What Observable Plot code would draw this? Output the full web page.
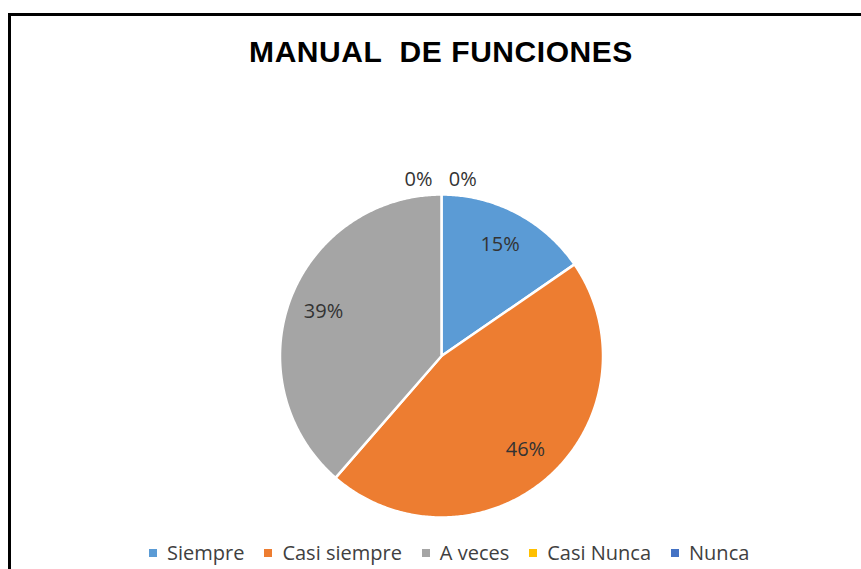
<!DOCTYPE html>
<html><head><meta charset="utf-8">
<script src="https://cdn.jsdelivr.net/npm/d3@7"></script>
<script src="https://cdn.jsdelivr.net/npm/@observablehq/plot@0.6"></script>
<style>
html,body{margin:0;padding:0;background:#fff;}
#wrap{position:relative;width:861px;height:569px;overflow:hidden;background:#fff;}
#frame{position:absolute;left:8px;top:13px;width:900px;height:600px;border:3px solid #000;box-sizing:border-box;}
#title{position:absolute;left:0;width:882px;top:37px;text-align:center;font:bold 30px "Liberation Sans",Arial,sans-serif;line-height:30px;letter-spacing:0.55px;white-space:pre;color:#000;}
#chart{position:absolute;left:0;top:0;}
#legend{position:absolute;left:149px;top:543px;display:flex;gap:20px;font:20px "Open Sans",sans-serif;line-height:20px;color:#404040;white-space:nowrap;}
.item{display:flex;align-items:center;}
.sw{width:8px;height:8px;margin-right:10px;}
</style></head><body><div id="wrap"><div id="frame"></div><div id="title"></div><div id="chart"></div><div id="legend"></div></div>
<script>
const categories = ["Siempre", "Casi siempre", "A veces", "Casi Nunca", "Nunca"];
const percents = [15.4, 46.0, 38.6, 0, 0];
const colors = ["#5B9BD5", "#ED7D31", "#A5A5A5", "#FFC000", "#4472C4"];
const title = "MANUAL  DE FUNCIONES";

document.getElementById("title").textContent = title;

const total = d3.sum(percents);
const arcs = d3.pie().sort(null).value(d => d.value)(categories.map((c, i) => ({cat: c, value: percents[i]})));

// slice polygons in unit coordinates (angle clockwise from 12 o'clock)
const poly = [];
arcs.forEach(a => {
  if (a.endAngle - a.startAngle <= 0) return;
  poly.push({cat: a.data.cat, u: 0, v: 0});
  const n = Math.max(2, Math.ceil((a.endAngle - a.startAngle) / 0.01));
  for (let k = 0; k <= n; ++k) {
    const t = a.startAngle + (a.endAngle - a.startAngle) * k / n;
    poly.push({cat: a.data.cat, u: Math.sin(t), v: Math.cos(t)});
  }
});

// labels: inside for non-zero slices, just outside the top for zero slices
let zeroIdx = 0;
const labels = arcs.map(a => {
  const pct = Math.round(a.data.value / total * 100) + "%";
  let ang = (a.startAngle + a.endAngle) / 2, r = 0.78;
  if (a.data.value === 0) { r = 1.1; ang = a.startAngle + (zeroIdx++ === 0 ? -0.13 : 0.12); }
  return {cat: a.data.cat, label: pct, u: r * Math.sin(ang), v: r * Math.cos(ang)};
});

const W = 861, H = 569, cx = 441, cy = 355.5, R = 161.5;
const plot = Plot.plot({
  width: W, height: H,
  margin: 0,
  x: {domain: [-cx / R, (W - cx) / R], axis: null},
  y: {domain: [-(H - cy) / R, cy / R], axis: null},
  color: {domain: categories, range: colors},
  style: {fontFamily: "Open Sans", background: "transparent", overflow: "visible"},
  marks: [
    Plot.line(poly, {x: "u", y: "v", z: "cat", fill: "cat", stroke: "white", strokeWidth: 2.5, curve: "linear-closed", strokeLinejoin: "round"}),
    Plot.text(labels, {x: "u", y: "v", text: "label", fill: "#333333", fontSize: 20, fontFamily: "Open Sans"})
  ]
});
document.getElementById("chart").appendChild(plot);

const leg = d3.select("#legend");
categories.forEach((c, i) => {
  const it = leg.append("div").attr("class", "item");
  it.append("div").attr("class", "sw").style("background", colors[i]);
  it.append("span").text(c);
});
</script></body></html>
